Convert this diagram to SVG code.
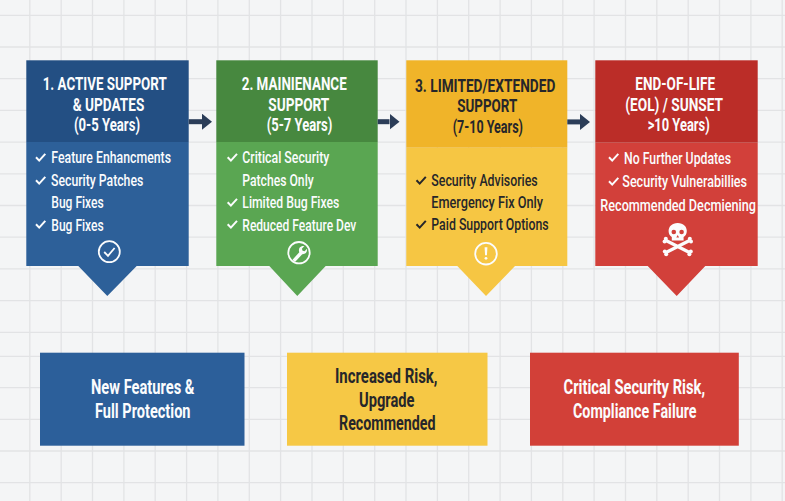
<svg xmlns="http://www.w3.org/2000/svg" width="785" height="501" viewBox="0 0 785 501">
<style>
text{font-family:"Roboto","Liberation Sans",sans-serif;}
.w{fill:#fbfcfd}.k{fill:#26262a}
.h{font-size:18.5px;font-weight:700}
.b{font-size:17px;font-weight:500}
.f{font-size:20px;font-weight:700}
.grid{stroke:#e2e3e5;stroke-width:1.3;fill:none}
.chkw{fill:none;stroke:#fbfcfd;stroke-width:2}
.chkk{fill:none;stroke:#26262a;stroke-width:2}
.ic{fill:none;stroke:#fbfcfd;stroke-width:1.8}
.conn{stroke:#2b3d58;stroke-width:5;fill:none;marker-end:url(#ah)}
</style>
<defs>
<marker id="ah" markerUnits="userSpaceOnUse" markerWidth="10" markerHeight="16" refX="0" refY="8" orient="auto"><path d="M0 0L10 8L0 16Z" fill="#2b3d58"/></marker>
<path id="ck" d="M0 4.2L3.2 7.6L9.3 0.8"/>
</defs>
<rect width="785" height="501" fill="#f4f5f6"/>
<path class="grid" d="M29.8 0V501M61.2 0V501M92.5 0V501M123.9 0V501M155.2 0V501M186.6 0V501M217.9 0V501M249.3 0V501M280.6 0V501M312 0V501M343.3 0V501M374.7 0V501M406 0V501M437.4 0V501M468.7 0V501M500.1 0V501M531.4 0V501M562.8 0V501M594.1 0V501M625.5 0V501M656.8 0V501M688.2 0V501M719.5 0V501M750.9 0V501M782.2 0V501M0 15.3H785M0 47H785M0 78.7H785M0 110.4H785M0 142.1H785M0 173.8H785M0 205.5H785M0 237.2H785M0 268.9H785M0 300.6H785M0 332.3H785M0 356.3H785M0 387.7H785M0 419.3H785M0 451H785M0 482.7H785"/>

<g id="node-active">
<path d="M26.3 142H188.7V266H136.7L107.3 296L78.3 266H26.3Z" fill="#2d6099"/>
<rect x="26.3" y="60.3" width="162.4" height="81.7" fill="#234f83"/>
<text class="h w" x="42.7" y="90" textLength="124" lengthAdjust="spacingAndGlyphs">1. ACTIVE SUPPORT</text>
<text class="h w" x="72.7" y="110.7" textLength="71.6" lengthAdjust="spacingAndGlyphs">&amp; UPDATES</text>
<text class="h w" x="74" y="130.7" textLength="66" lengthAdjust="spacingAndGlyphs">(0-5 Years)</text>
<use href="#ck" class="chkw" x="36" y="153"/>
<text class="b w" x="51.3" y="163.3" textLength="119.7" lengthAdjust="spacingAndGlyphs">Feature Enhancments</text>
<use href="#ck" class="chkw" x="36" y="176"/>
<text class="b w" x="51" y="186" textLength="92.3" lengthAdjust="spacingAndGlyphs">Security Patches</text>
<text class="b w" x="51.3" y="208" textLength="52.4" lengthAdjust="spacingAndGlyphs">Bug Fixes</text>
<use href="#ck" class="chkw" x="36" y="220"/>
<text class="b w" x="51.3" y="230.7" textLength="52.4" lengthAdjust="spacingAndGlyphs">Bug Fixes</text>
<circle class="ic" cx="109.3" cy="251.7" r="10.5"/>
<path class="ic" stroke-width="2.2" d="M104.2 252L108 255.8L114.6 248"/>
</g>

<g id="node-maintenance">
<path d="M216.3 142H377.7V266H325.7L297.3 296L269.3 266H216.3Z" fill="#5aa652"/>
<rect x="216.3" y="60.3" width="161.4" height="81.7" fill="#47883f"/>
<text class="h w" x="241.7" y="90" textLength="105" lengthAdjust="spacingAndGlyphs">2. MAINIENANCE</text>
<text class="h w" x="268.3" y="110.7" textLength="61" lengthAdjust="spacingAndGlyphs">SUPPORT</text>
<text class="h w" x="266.7" y="130.7" textLength="65.6" lengthAdjust="spacingAndGlyphs">(5-7 Years)</text>
<use href="#ck" class="chkw" x="227.7" y="153"/>
<text class="b w" x="242.3" y="163.3" textLength="87" lengthAdjust="spacingAndGlyphs">Critical Security</text>
<text class="b w" x="242.3" y="186" textLength="71.4" lengthAdjust="spacingAndGlyphs">Patches Only</text>
<use href="#ck" class="chkw" x="227.7" y="198"/>
<text class="b w" x="242.3" y="208" textLength="97" lengthAdjust="spacingAndGlyphs">Limited Bug Fixes</text>
<use href="#ck" class="chkw" x="227.7" y="220"/>
<text class="b w" x="242.3" y="230.7" textLength="114" lengthAdjust="spacingAndGlyphs">Reduced Feature Dev</text>
<circle class="ic" cx="299" cy="252.7" r="10.7"/>
<path d="M292.5 259.8L299.3 252.2C298.2 249.4 299.4 246.8 302.2 246L304.4 246.1L301.9 248.7L302.6 250.7L304.6 251.3L307 248.8C307.5 251.6 305.7 254.4 302.3 254.2L295 261.9Z" fill="#fbfcfd"/>
</g>

<g id="node-limited">
<path d="M406.3 147.7H567.3V266H515L486 296L457.3 266H406.3Z" fill="#f6c643"/>
<rect x="406.3" y="60.3" width="161" height="87.4" fill="#f0b429"/>
<text class="h k" x="415" y="91.7" textLength="140.3" lengthAdjust="spacingAndGlyphs">3. LIMITED/EXTENDED</text>
<text class="h k" x="457.3" y="112.3" textLength="60" lengthAdjust="spacingAndGlyphs">SUPPORT</text>
<text class="h k" x="452.7" y="132.7" textLength="70.3" lengthAdjust="spacingAndGlyphs">(7-10 Years)</text>
<use href="#ck" class="chkk" x="416.5" y="176"/>
<text class="b k" x="431.3" y="186" textLength="106.4" lengthAdjust="spacingAndGlyphs">Security Advisories</text>
<text class="b k" x="431.3" y="208.3" textLength="111.7" lengthAdjust="spacingAndGlyphs">Emergency Fix Only</text>
<use href="#ck" class="chkk" x="416.5" y="220"/>
<text class="b k" x="431.3" y="230.3" textLength="117.4" lengthAdjust="spacingAndGlyphs">Paid Support Options</text>
<circle class="ic" cx="486" cy="253.7" r="10.8"/>
<path d="M484.6 247.2H487.4L486.9 255.2H485.1Z" fill="#fbfcfd"/>
<circle cx="486" cy="258.3" r="1.4" fill="#fbfcfd"/>
</g>

<g id="node-eol">
<path d="M595.3 142.7H757.7V266H705.3L676.7 296L647.7 266H595.3Z" fill="#d2403a"/>
<rect x="595.3" y="60.3" width="162.4" height="82.4" fill="#bb2d28"/>
<text class="h w" x="635.3" y="90" textLength="79.7" lengthAdjust="spacingAndGlyphs">END-OF-LIFE</text>
<text class="h w" x="625.3" y="110.7" textLength="97.7" lengthAdjust="spacingAndGlyphs">(EOL) / SUNSET</text>
<text class="h w" x="647.7" y="130.7" textLength="62" lengthAdjust="spacingAndGlyphs">&gt;10 Years)</text>
<use href="#ck" class="chkw" x="609" y="153"/>
<text class="b w" x="624" y="164" textLength="107" lengthAdjust="spacingAndGlyphs">No Further Updates</text>
<use href="#ck" class="chkw" x="609" y="177"/>
<text class="b w" transform="translate(622.3 187) scale(.8 1)" textLength="155.9" lengthAdjust="spacingAndGlyphs">Security Vulnerabillies</text>
<text class="b w" transform="translate(600.3 210.7) scale(.78 1)" textLength="199.6" lengthAdjust="spacingAndGlyphs">Recommended Decmiening</text>
<path d="M677.7 223C671.8 223 668.6 226.7 668.6 231C668.6 234 670 235.8 671.8 237V240.5H683.6V237C685.4 235.8 686.8 234 686.8 231C686.8 226.7 683.6 223 677.7 223Z" fill="#fbfcfd"/>
<circle cx="673.8" cy="232" r="2.3" fill="#d2403a"/>
<circle cx="681.6" cy="232" r="2.3" fill="#d2403a"/>
<path d="M677.7 235L676.3 237.6H679.1Z" fill="#d2403a"/>
<path d="M666 240.5L689.5 252.5M689.5 240.5L666 252.5" stroke="#fbfcfd" stroke-width="3.2" fill="none"/>
<g fill="#fbfcfd"><circle cx="665.8" cy="238.8" r="2"/><circle cx="664.6" cy="241.5" r="2"/><circle cx="689.8" cy="238.8" r="2"/><circle cx="691" cy="241.5" r="2"/><circle cx="664.8" cy="251.5" r="2"/><circle cx="666.2" cy="254.2" r="2"/><circle cx="690.8" cy="251.5" r="2"/><circle cx="689.4" cy="254.2" r="2"/></g>
</g>

<g id="connectors">
<line class="conn" x1="188.7" y1="121.7" x2="202" y2="121.7"/>
<line class="conn" x1="377.7" y1="121.7" x2="389.5" y2="121.7"/>
<line class="conn" x1="567.3" y1="121.9" x2="580" y2="121.9"/>
</g>

<g id="outcome-features">
<rect x="40" y="352.7" width="204.5" height="93" fill="#2c5f9a"/>
<text class="f w" x="91" y="394" textLength="103.5" lengthAdjust="spacingAndGlyphs">New Features &amp;</text>
<text class="f w" x="95" y="417.7" textLength="95.5" lengthAdjust="spacingAndGlyphs">Full Protection</text>
</g>
<g id="outcome-risk">
<rect x="287" y="352.7" width="200.5" height="93" fill="#f6c845"/>
<text class="f k" x="335" y="383.3" textLength="102.5" lengthAdjust="spacingAndGlyphs">Increased Risk,</text>
<text class="f k" x="359" y="406.7" textLength="55.5" lengthAdjust="spacingAndGlyphs">Upgrade</text>
<text class="f k" x="339" y="430" textLength="96.5" lengthAdjust="spacingAndGlyphs">Recommended</text>
</g>
<g id="outcome-critical">
<rect x="530" y="352.7" width="208.8" height="93" fill="#d24038"/>
<text class="f w" x="563.5" y="394" textLength="141.5" lengthAdjust="spacingAndGlyphs">Critical Security Risk,</text>
<text class="f w" x="573" y="417.7" textLength="123.5" lengthAdjust="spacingAndGlyphs">Compliance Failure</text>
</g>
</svg>
